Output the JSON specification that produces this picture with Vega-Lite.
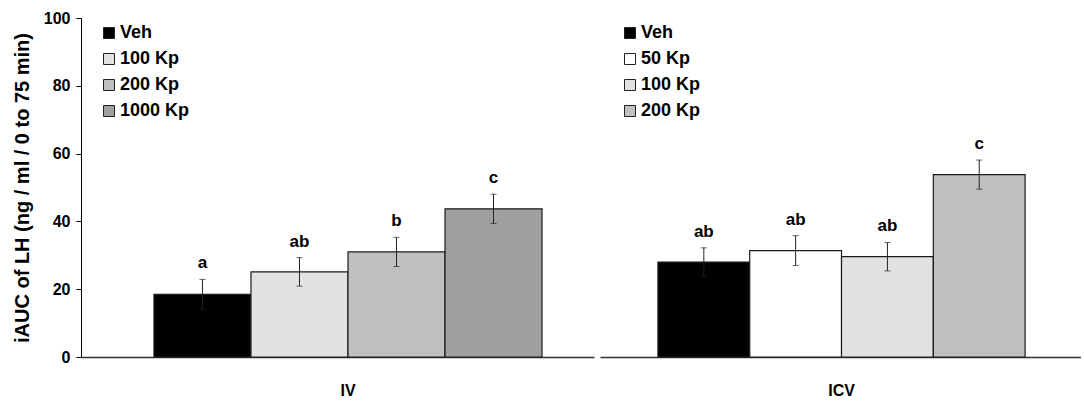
{
  "$schema": "https://vega.github.io/schema/vega-lite/v6.json",
  "padding": {"left": 12, "top": 10, "right": 0, "bottom": 0},
  "config": {
    "font": "Liberation Sans",
    "view": {"stroke": null},
    "axis": {"labelFont": "Liberation Sans", "labelFontWeight": "bold", "labelColor": "black", "titleFont": "Liberation Sans", "titleFontWeight": "bold", "titleColor": "black", "grid": false},
    "legend": {"labelFont": "Liberation Sans"}
  },
  "datasets": {
    "iv": [
      {"route": "IV", "treatment": "Veh", "mean": 18.5, "sem": 4.4, "letter": "a"},
      {"route": "IV", "treatment": "100 Kp", "mean": 25.1, "sem": 4.2, "letter": "ab"},
      {"route": "IV", "treatment": "200 Kp", "mean": 31.0, "sem": 4.3, "letter": "b"},
      {"route": "IV", "treatment": "1000 Kp", "mean": 43.7, "sem": 4.3, "letter": "c"}
    ],
    "icv": [
      {"route": "ICV", "treatment": "Veh", "mean": 28.0, "sem": 4.2, "letter": "ab"},
      {"route": "ICV", "treatment": "50 Kp", "mean": 31.4, "sem": 4.4, "letter": "ab"},
      {"route": "ICV", "treatment": "100 Kp", "mean": 29.6, "sem": 4.2, "letter": "ab"},
      {"route": "ICV", "treatment": "200 Kp", "mean": 53.8, "sem": 4.3, "letter": "c"}
    ]
  },
  "spacing": 6,
  "resolve": {"scale": {"color": "independent", "x": "independent", "xOffset": "independent", "y": "independent"}},
  "hconcat": [
    {
      "width": 513,
      "height": 339,
      "data": {"name": "iv"},
      "transform": [{"calculate": "datum.mean + datum.sem", "as": "upper"}],
      "encoding": {
        "x": {
          "field": "route", "type": "nominal",
          "scale": {"paddingInner": 0, "paddingOuter": 0.161, "align": 0.584},
          "axis": {"title": null, "ticks": false, "tickSize": 0, "domainColor": "#333", "domainWidth": 1.5, "labelFontSize": 16, "labelPadding": 25, "labelAngle": 0}
        },
        "xOffset": {
          "field": "treatment", "type": "nominal",
          "sort": ["Veh", "100 Kp", "200 Kp", "1000 Kp"],
          "scale": {"paddingInner": 0, "paddingOuter": 0}
        }
      },
      "layer": [
        {
          "mark": {"type": "bar", "stroke": "#1a1a1a", "strokeWidth": 1.2},
          "encoding": {
            "y": {
              "field": "mean", "type": "quantitative",
              "scale": {"domain": [0, 100], "nice": false},
              "axis": {"title": "iAUC of LH (ng / ml / 0 to 75 min)", "titleFontSize": 20, "titlePadding": 11, "values": [0, 10, 20, 30, 40, 50, 60, 70, 80, 90, 100], "labelExpr": "datum.value % 20 === 0 ? datum.label : ''", "tickSize": 5, "tickColor": "black", "domainColor": "black", "labelFontSize": 16, "labelPadding": 6}
            },
            "color": {
              "field": "treatment", "type": "nominal",
              "scale": {"domain": ["Veh", "100 Kp", "200 Kp", "1000 Kp"], "range": ["#000000", "#e2e2e2", "#c0c0c0", "#9f9f9f"]},
              "legend": {"orient": "none", "legendX": 19, "legendY": 6, "title": null, "symbolType": "square", "symbolSize": 121, "symbolStrokeColor": "#222", "symbolStrokeWidth": 1, "symbolOpacity": 1, "labelFontSize": 18, "labelFontWeight": "bold", "labelColor": "black", "rowPadding": 8, "labelOffset": 2}
            }
          }
        },
        {
          "mark": {"type": "errorbar", "ticks": {"size": 6, "thickness": 1, "color": "#222"}, "rule": {"color": "#222", "strokeWidth": 1}},
          "encoding": {
            "y": {"field": "mean", "type": "quantitative", "axis": {"title": "iAUC of LH (ng / ml / 0 to 75 min)"}},
            "yError": {"field": "sem"}
          }
        },
        {
          "mark": {"type": "text", "dy": -11, "baseline": "alphabetic", "fontSize": 17, "fontWeight": "bold", "color": "black"},
          "encoding": {
            "y": {"field": "upper", "type": "quantitative", "axis": {"title": "iAUC of LH (ng / ml / 0 to 75 min)"}},
            "text": {"field": "letter"}
          }
        }
      ]
    },
    {
      "width": 481,
      "height": 339,
      "data": {"name": "icv"},
      "transform": [{"calculate": "datum.mean + datum.sem", "as": "upper"}],
      "encoding": {
        "x": {
          "field": "route", "type": "nominal",
          "scale": {"paddingInner": 0, "paddingOuter": 0.155, "align": 0.509},
          "axis": {"title": null, "ticks": false, "tickSize": 0, "domainColor": "#333", "domainWidth": 1.5, "labelFontSize": 16, "labelPadding": 25, "labelAngle": 0}
        },
        "xOffset": {
          "field": "treatment", "type": "nominal",
          "sort": ["Veh", "50 Kp", "100 Kp", "200 Kp"],
          "scale": {"paddingInner": 0, "paddingOuter": 0}
        }
      },
      "layer": [
        {
          "mark": {"type": "bar", "stroke": "#1a1a1a", "strokeWidth": 1.2},
          "encoding": {
            "y": {"field": "mean", "type": "quantitative", "scale": {"domain": [0, 100], "nice": false}, "axis": null},
            "color": {
              "field": "treatment", "type": "nominal",
              "scale": {"domain": ["Veh", "50 Kp", "100 Kp", "200 Kp"], "range": ["#000000", "#ffffff", "#e2e2e2", "#c0c0c0"]},
              "legend": {"orient": "none", "legendX": 21, "legendY": 6, "title": null, "symbolType": "square", "symbolSize": 121, "symbolStrokeColor": "#222", "symbolStrokeWidth": 1, "symbolOpacity": 1, "labelFontSize": 18, "labelFontWeight": "bold", "labelColor": "black", "rowPadding": 8, "labelOffset": 2}
            }
          }
        },
        {
          "mark": {"type": "errorbar", "ticks": {"size": 6, "thickness": 1, "color": "#222"}, "rule": {"color": "#222", "strokeWidth": 1}},
          "encoding": {
            "y": {"field": "mean", "type": "quantitative", "axis": null},
            "yError": {"field": "sem"}
          }
        },
        {
          "mark": {"type": "text", "dy": -11, "baseline": "alphabetic", "fontSize": 17, "fontWeight": "bold", "color": "black"},
          "encoding": {
            "y": {"field": "upper", "type": "quantitative", "axis": null},
            "text": {"field": "letter"}
          }
        }
      ]
    }
  ]
}
